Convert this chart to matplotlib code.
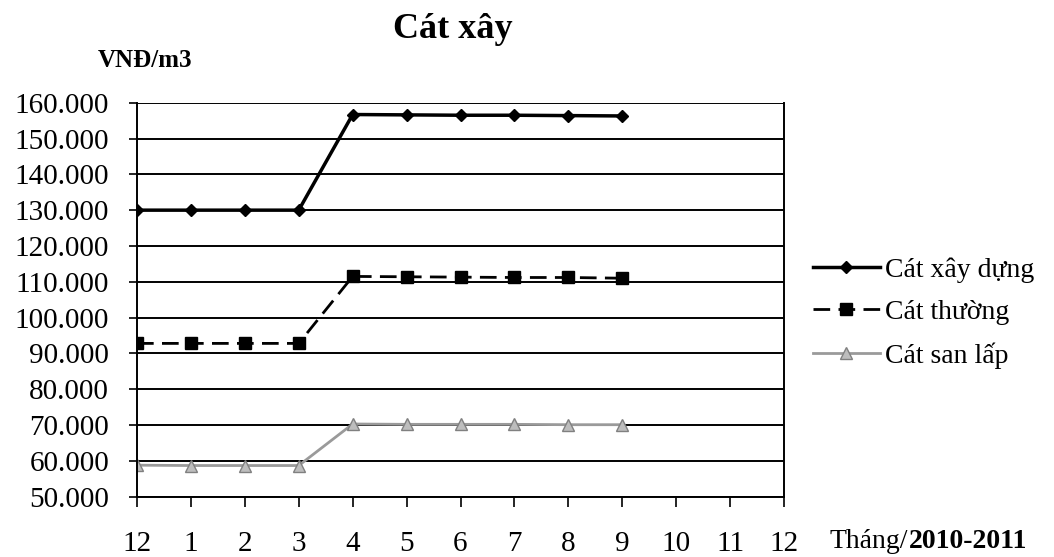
import matplotlib
matplotlib.use("Agg")
import matplotlib.pyplot as plt
from matplotlib.ticker import FuncFormatter, MultipleLocator

plt.rcParams['font.family'] = ['Liberation Serif', 'DejaVu Serif']

months = ["12", "1", "2", "3", "4", "5", "6", "7", "8", "9", "10", "11", "12"]
cat_xay_dung = [130000, 130000, 130000, 130000, 156700, 156600, 156500, 156500, 156400, 156300]
cat_thuong = [92800, 92800, 92800, 92800, 111500, 111400, 111300, 111200, 111200, 111000]
cat_san_lap = [58800, 58700, 58700, 58700, 70300, 70200, 70200, 70200, 70100, 70100]

fig = plt.figure(figsize=(10.54, 5.57), dpi=100)
ax = fig.add_axes([137 / 1054, 1 - 496.7 / 557, 647 / 1054, 394 / 557])

x = list(range(len(cat_xay_dung)))
ax.plot(x, cat_xay_dung, color="black", lw=2.5, marker="D", ms=6, label="Cát xây dựng")
ax.plot(x, cat_thuong, color="black", lw=2, ls=(0, (6, 3)), marker="s", ms=8,
        label="Cát thường")
ax.plot(x, cat_san_lap, color="#9a9a9a", lw=2, marker="^", ms=8,
        mfc="#bdbdbd", mec="#808080", label="Cát san lấp")

ax.set_xlim(0, 12)
ax.set_ylim(50000, 160000)
ax.set_xticks(range(len(months)))
ax.set_xticklabels(months)
ax.yaxis.set_major_locator(MultipleLocator(10000))
ax.yaxis.set_major_formatter(FuncFormatter(lambda v, p: f"{v:,.0f}".replace(",", ".")))
ax.grid(axis="y", color="black", lw=1.4)
ax.set_axisbelow(True)
ax.spines["top"].set_visible(False)
for s in ["left", "bottom", "right"]:
    ax.spines[s].set_color("black")
    ax.spines[s].set_linewidth(1.4)
ax.tick_params(axis="y", direction="out", length=6, width=1.2, pad=14, labelsize=21)
ax.tick_params(axis="x", direction="out", length=7, width=1.2, pad=18, labelsize=21)

fig.text(453 / 1054, 1 - 30 / 557, "Cát xây", ha="center", va="center",
         fontsize=26, fontweight="bold")
fig.text(98 / 1054, 1 - 61 / 557, "VNĐ/m3", ha="left", va="center",
         fontsize=18, fontweight="bold")

t1 = fig.text(830 / 1054, 1 - 541 / 557, "Tháng/", ha="left", va="center", fontsize=20)
fig.canvas.draw()
bb = t1.get_window_extent()
fig.text(bb.x1 / 1054, 1 - 541 / 557, "2010-2011", ha="left", va="center",
         fontsize=20, fontweight="bold")

fig.legend(loc="center left", bbox_to_anchor=(813 / 1054, 1 - 313 / 557),
           frameon=False, fontsize=20, handlelength=2.4, handletextpad=0.2,
           labelspacing=0.62, borderpad=0, borderaxespad=0)

fig.savefig("out.png", dpi=100)
